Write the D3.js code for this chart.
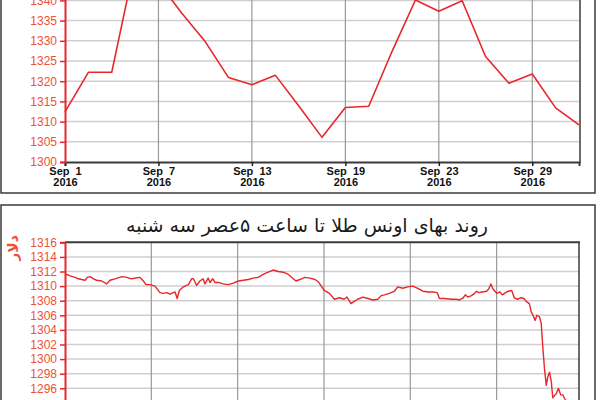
<!DOCTYPE html>
<html><head><meta charset="utf-8">
<script src="https://cdn.jsdelivr.net/npm/d3@7"></script>
<style>html,body{margin:0;padding:0;background:#fff;}svg{display:block;}</style>
</head><body>
<script>
// ---- Top chart: daily price, Sep 2016 (trading days) ----
const dailyDates = ["Sep 1","Sep 2","Sep 5","Sep 6","Sep 7","Sep 8","Sep 9","Sep 12","Sep 13","Sep 14","Sep 15","Sep 16","Sep 19","Sep 20","Sep 21","Sep 22","Sep 23","Sep 26","Sep 27","Sep 28","Sep 29","Sep 30","Oct 3"];
const dailyPrice = [1312.4,1322.2,1322.2,1349.5,1344.5,1336.8,1329.8,1320.9,1319.1,1321.5,1313.9,1306.1,1313.5,1313.8,1327.4,1340.1,1337.3,1339.9,1326.1,1319.5,1321.8,1313.4,1309.2];
const dailyTickDates = ["Sep 1","Sep 7","Sep 13","Sep 19","Sep 23","Sep 29"];
const dailyTickYear = "2016";
const dailyYTicks = [1300,1305,1310,1315,1320,1325,1330,1335,1340];
const dailyYGrid = [1305,1310,1315,1320,1325,1330,1335,1340,1345,1350];

// ---- Bottom chart: intraday price (minutes from start) ----
const intradayTitle = "روند بهای اونس طلا تا ساعت ۵عصر سه شنبه";
const intradayUnit = "دلار";
const intradayMinutes = [0,5,14,28,37,46,56,62,70,79,88,102,116,125,139,158,172,185,208,218,225,236,250,264,273,283,292,306,312,318,329,343,352,357,366,375,384,389,398,403,411,417,426,440,454,468,482,496,510,523,537,551,565,579,593,607,621,630,642,653,667,681,695,704,714,721,735,749,763,776,784,795,804,814,828,842,856,870,879,888,902,916,925,939,953,967,981,995,1009,1023,1035,1041,1055,1074,1088,1097,1107,1113,1120,1130,1139,1144,1150,1160,1172,1178,1184,1190,1200,1209,1216,1225,1232,1242,1249,1258,1267,1276,1282,1291,1296,1303,1307,1312,1319,1324,1328,1333,1338,1342,1347,1352,1356,1366,1372,1378,1384,1389,1396];
const intradayPrice = [1311.5,1311.6,1311.4,1311.2,1311.0,1310.9,1310.8,1311.2,1311.3,1311.0,1310.8,1310.7,1310.3,1310.8,1311.0,1311.3,1311.2,1311.0,1311.2,1310.7,1310.2,1310.2,1310.0,1309.1,1309.0,1309.1,1308.9,1309.2,1308.3,1309.4,1309.9,1310.2,1311.0,1311.0,1310.1,1310.7,1311.0,1310.3,1311.1,1310.5,1311.0,1310.5,1310.5,1310.3,1310.2,1310.4,1310.7,1310.8,1310.9,1311.1,1311.2,1311.6,1311.9,1312.2,1312.0,1311.9,1311.6,1311.2,1310.7,1310.9,1311.2,1311.1,1310.9,1310.6,1309.9,1309.4,1309.0,1308.2,1308.4,1308.2,1308.5,1307.6,1307.9,1308.2,1308.5,1308.3,1308.1,1308.2,1308.7,1308.8,1309.0,1309.3,1309.9,1309.7,1309.9,1310.0,1309.7,1309.3,1309.2,1309.2,1309.1,1308.3,1308.3,1308.2,1308.2,1308.1,1308.4,1308.8,1308.5,1308.7,1309.0,1309.3,1309.1,1309.2,1309.3,1309.6,1310.3,1309.6,1309.0,1309.2,1308.8,1309.1,1309.3,1309.4,1308.4,1308.2,1308.4,1308.3,1307.9,1307.6,1306.5,1305.8,1305.3,1306.0,1305.8,1304.9,1301.9,1298.7,1296.4,1297.5,1298.2,1296.9,1294.7,1295.3,1296.0,1295.1,1295.1,1294.6,1294.0];
const intradayYTicks = [1296,1298,1300,1302,1304,1306,1308,1310,1312,1314,1316];
const intradayYGrid = [1290,1292,1294,1296,1298,1300,1302,1304,1306,1308,1310,1312,1314];
const intradayGridMinutes = [240,480,720,960,1200];

const W = 600, H = 400;
const RED = "#e8262b", LBL = "#ee5236", FRAME = "#3a3a3a", GRIDH = "#cfcfcf", GRIDV = "#9a9a9a";
const svg = d3.select("body").append("svg").attr("width", W).attr("height", H);

// ===== Top panel =====
const topG = svg.append("g");
topG.append("rect").attr("x",1).attr("y",-60).attr("width",594).attr("height",253)
  .attr("fill","none").attr("stroke",FRAME).attr("stroke-width",1.5);

const xT = d3.scaleLinear().domain([0, dailyDates.length-1]).range([65, 579]);
const yT = d3.scaleLinear().domain([1300,1350]).range([162, -40]);

topG.append("g").selectAll("line").data(dailyYGrid).join("line")
  .attr("x1",65).attr("x2",579).attr("y1",d=>yT(d)).attr("y2",d=>yT(d))
  .attr("stroke",GRIDH).attr("stroke-width",1.5);
topG.append("g").selectAll("line").data(dailyTickDates.slice(1)).join("line")
  .attr("x1",d=>xT(dailyDates.indexOf(d))).attr("x2",d=>xT(dailyDates.indexOf(d)))
  .attr("y1",-40).attr("y2",162).attr("stroke",GRIDV).attr("stroke-width",1.2);
topG.append("line").attr("x1",580).attr("x2",580).attr("y1",-40).attr("y2",163)
  .attr("stroke",FRAME).attr("stroke-width",1.5);

const xAxisT = d3.axisBottom(xT).tickValues(dailyTickDates.map(d=>dailyDates.indexOf(d)))
  .tickSize(4).tickFormat(()=>"");
const gxT = topG.append("g").attr("transform","translate(0,162)").call(xAxisT);
gxT.select(".domain").attr("stroke",FRAME).attr("stroke-width",2);
gxT.selectAll(".tick line").attr("stroke","#222").attr("stroke-width",1.5);
gxT.selectAll(".tick").each(function(i){
  const t = d3.select(this);
  t.append("text").attr("y",13).attr("text-anchor","middle").attr("fill","#111")
    .attr("font-family","Liberation Sans, Arial, sans-serif").attr("font-size",11).attr("font-weight","bold")
    .attr("xml:space","preserve").text(dailyDates[i].replace(" ","  "));
  t.append("text").attr("y",24).attr("text-anchor","middle").attr("fill","#111")
    .attr("font-family","Liberation Sans, Arial, sans-serif").attr("font-size",11).attr("font-weight","bold")
    .text(dailyTickYear);
});

const gyT = topG.append("g").attr("transform","translate(65,0)")
  .call(d3.axisLeft(yT).tickValues(dailyYTicks).tickSize(5).tickPadding(3).tickFormat(d3.format("d")));
gyT.select(".domain").attr("stroke",RED).attr("stroke-width",2);
gyT.selectAll(".tick line").attr("stroke",RED).attr("stroke-width",1.5);
gyT.selectAll(".tick text").attr("fill",LBL).attr("font-family","Liberation Sans, Arial, sans-serif").attr("font-size",12);

const lineT = d3.line().x((d,i)=>xT(i)).y(d=>yT(d));
topG.append("path").datum(dailyPrice).attr("d",lineT).attr("fill","none")
  .attr("stroke",RED).attr("stroke-width",1.6).attr("stroke-linejoin","round");

// ===== Bottom panel =====
const botG = svg.append("g");
botG.append("rect").attr("x",1).attr("y",205).attr("width",594).attr("height",260)
  .attr("fill","none").attr("stroke",FRAME).attr("stroke-width",1.5);
botG.append("text").attr("x",307).attr("y",232).attr("text-anchor","middle")
  .attr("font-family","DejaVu Sans, sans-serif").attr("font-size",19).attr("fill","#1a1a1a")
  .text(intradayTitle);

const xB = d3.scaleLinear().domain([0,1429]).range([65,579]);
const yB = d3.scaleLinear().domain([1290,1316]).range([242.3+26*7.3, 242.3]);

botG.append("g").selectAll("line").data(intradayYGrid).join("line")
  .attr("x1",65).attr("x2",579).attr("y1",d=>yB(d)).attr("y2",d=>yB(d))
  .attr("stroke",GRIDH).attr("stroke-width",1.5);
botG.append("g").selectAll("line").data(intradayGridMinutes).join("line")
  .attr("x1",d=>xB(d)).attr("x2",d=>xB(d)).attr("y1",242).attr("y2",yB(1290))
  .attr("stroke",GRIDV).attr("stroke-width",1.2);
botG.append("line").attr("x1",65).attr("x2",580).attr("y1",242.3).attr("y2",242.3)
  .attr("stroke",FRAME).attr("stroke-width",2);
botG.append("line").attr("x1",579).attr("x2",579).attr("y1",242.3).attr("y2",yB(1290))
  .attr("stroke",FRAME).attr("stroke-width",1.5);

const gyB = botG.append("g").attr("transform","translate(65,0)")
  .call(d3.axisLeft(yB).tickValues(intradayYTicks).tickSize(5).tickPadding(3).tickFormat(d3.format("d")));
gyB.select(".domain").attr("stroke",RED).attr("stroke-width",2);
gyB.selectAll(".tick line").attr("stroke",RED).attr("stroke-width",1.5);
gyB.selectAll(".tick text").attr("fill",LBL).attr("font-family","Liberation Sans, Arial, sans-serif").attr("font-size",12);

botG.append("text").attr("transform","translate(18,248) rotate(-90)").attr("text-anchor","middle")
  .attr("font-family","DejaVu Sans, sans-serif").attr("font-size",14).attr("font-weight","bold").attr("fill",LBL)
  .text(intradayUnit);

const lineB = d3.line().x((d,i)=>xB(intradayMinutes[i])).y(d=>yB(d));
botG.append("path").datum(intradayPrice).attr("d",lineB).attr("fill","none")
  .attr("stroke",RED).attr("stroke-width",1.4).attr("stroke-linejoin","round");
</script>
</body></html>
